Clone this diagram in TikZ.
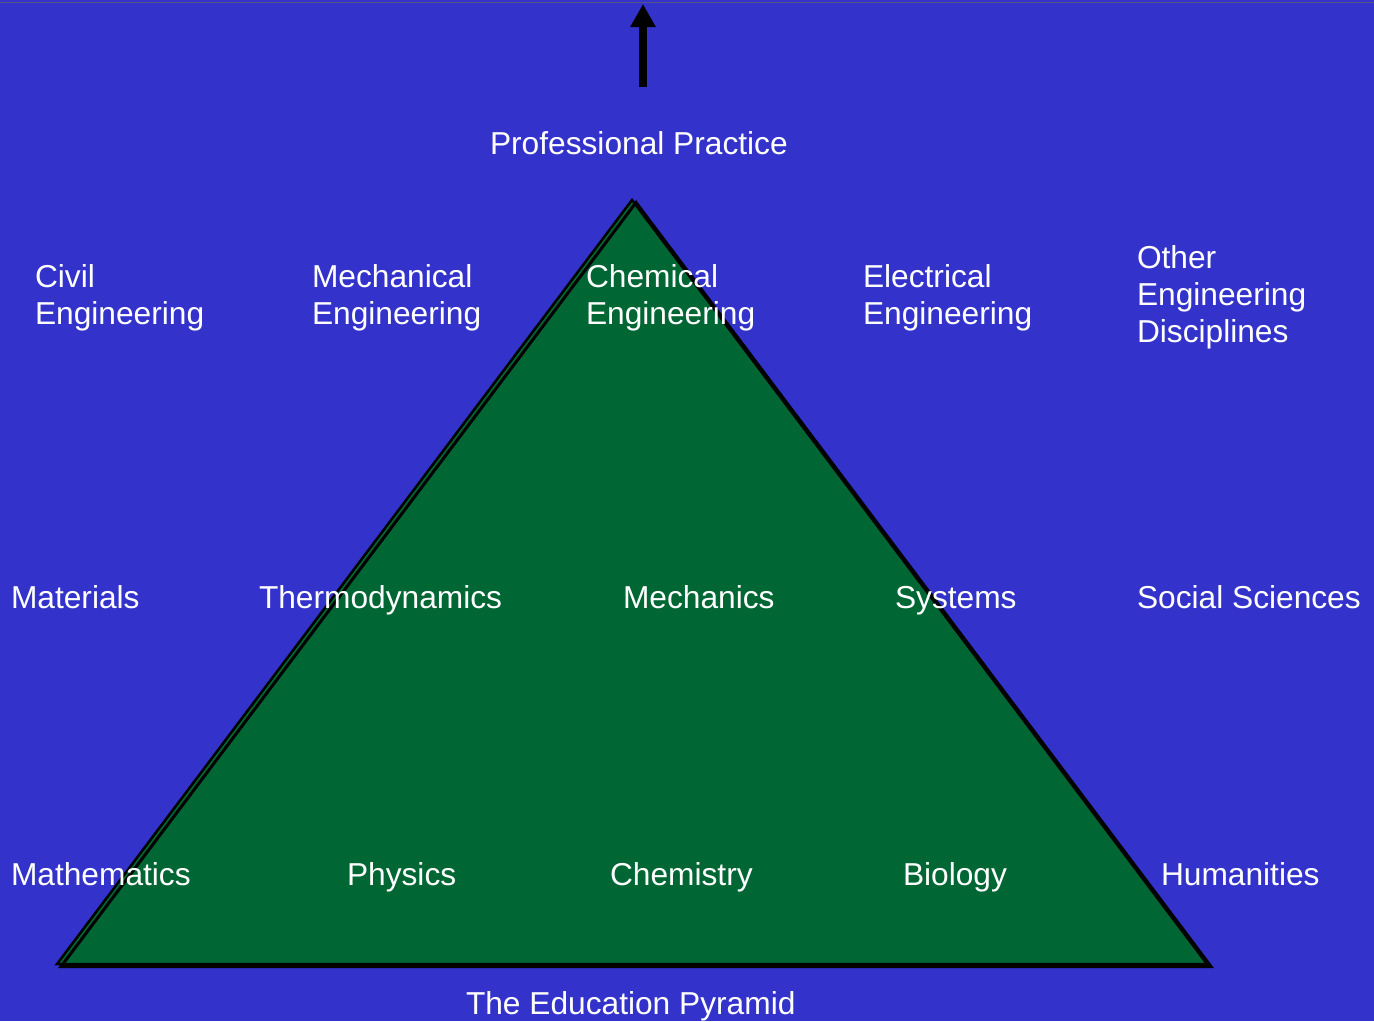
\documentclass[tikz,border=0pt]{standalone}
\usepackage{fontspec}
\setmainfont{Liberation Sans}
\usetikzlibrary{arrows.meta}
\definecolor{bgblue}{RGB}{51,51,204}
\definecolor{pyrgreen}{RGB}{0,102,51}
\definecolor{topline}{RGB}{85,85,136}
\begin{document}
\begin{tikzpicture}[x=1pt,y=-1pt,
  lbl/.style={anchor=base west,inner sep=0pt,outer sep=0pt,text=white,align=left,
    font=\fontsize{31.7}{37}\selectfont}]
\fill[bgblue] (0,0) rectangle (1374,1021);
\useasboundingbox (0,0) rectangle (1374,1021);
\draw[topline,line width=1.5pt] (0,2.5) -- (1374,2.5);
% pyramid
\coordinate (apex) at (632,200);
\coordinate (bl) at (57,964);
\coordinate (br) at (1207,964);
\filldraw[fill=pyrgreen,draw=black,line width=2.5pt,line join=miter] (apex) -- (bl) -- (br) -- cycle;
\draw[black,line width=3pt] ([shift={(4,2.5)}]apex) -- ([shift={(4,2.5)}]bl) -- ([shift={(4,2.5)}]br) -- cycle;
% arrow
\coordinate (arrS) at (643,87);
\coordinate (arrE) at (643,4);
\draw[line width=8.5pt,-{Triangle[width=24pt,length=23pt]}] (arrS) -- (arrE);
% labels
\node[lbl] (pp) at (490,154) {Professional Practice};
\node[lbl] (civ) at (35,324) {Civil\\Engineering};
\node[lbl] (mec) at (312,324) {Mechanical\\Engineering};
\node[lbl] (che) at (586,324) {Chemical\\Engineering};
\node[lbl] (ele) at (863,324) {Electrical\\Engineering};
\node[lbl] (oth) at (1137,342) {Other\\Engineering\\Disciplines};
\node[lbl] (mat) at (11,608) {Materials};
\node[lbl] (the) at (259,608) {Thermodynamics};
\node[lbl] (mch) at (623,608) {Mechanics};
\node[lbl] (sys) at (895,608) {Systems};
\node[lbl] (soc) at (1137,608) {Social Sciences};
\node[lbl] (mth) at (11,885) {Mathematics};
\node[lbl] (phy) at (347,885) {Physics};
\node[lbl] (chm) at (610,885) {Chemistry};
\node[lbl] (bio) at (903,885) {Biology};
\node[lbl] (hum) at (1161,885) {Humanities};
\node[lbl] (tep) at (466,1014) {The Education Pyramid};
\end{tikzpicture}
\end{document}
